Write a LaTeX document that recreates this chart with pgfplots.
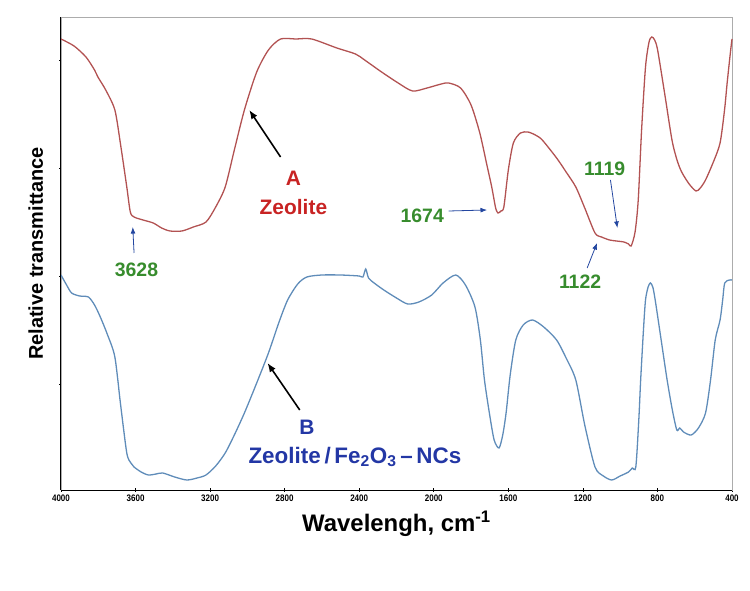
\documentclass[border=0pt]{standalone}
\usepackage{pgfplots}
\pgfplotsset{compat=1.18}
\usetikzlibrary{arrows.meta}
\usepackage{fontspec}
\setmainfont{Liberation Sans}
\definecolor{redcurve}{RGB}{178,82,82}
\definecolor{bluecurve}{RGB}{95,140,185}
\definecolor{redtext}{RGB}{200,35,35}
\definecolor{bluetext}{RGB}{35,55,165}
\definecolor{greentext}{RGB}{55,140,45}
\definecolor{arrowblue}{RGB}{35,70,160}
\begin{document}
\begin{tikzpicture}
\begin{axis}[
  name=ax,
  scale only axis,
  width=671bp, height=473bp,
  x dir=reverse,
  xmin=400, xmax=4000, ymin=0, ymax=473,
  xtick={400,800,...,4000},
  ytick={106,214,322,430},
  yticklabels={},
  xticklabel style={font=\fontsize{9.5}{10}\selectfont\bfseries, xscale=0.85},
  /pgf/number format/assume math mode=true,
  /pgf/number format/set thousands separator={},
  tick style={black, line width=0.6pt},
  major tick length=3bp,
  tick pos=left,
  tick align=center,
  axis line style={gray!65, line width=0.8pt},
  xlabel={\bfseries Wavelengh, cm\textsuperscript{-1}},
  xlabel style={font=\fontsize{24}{26}\selectfont, yshift=-2bp},
  ylabel={\bfseries Relative transmittance},
  ylabel style={font=\fontsize{20}{22}\selectfont, yshift=6bp},
  clip=false,
]
\addplot[redcurve, line width=1.3pt, smooth, tension=0.45] coordinates {
(4000,451) (3930,444) (3866,433) (3820,420) (3802,413) (3760,400) (3711,380) (3680,345) (3647,303) (3628,278) (3608,273)
(3560,270) (3505,267) (3460,262) (3415,259) (3351,259) (3290,263) (3222,268) (3170,283) (3119,303) (3070,340) (3016,380)
(2950,418) (2887,440) (2822,451) (2740,451) (2655,451) (2520,442) (2420,436) (2371,430) (2280,418) (2191,407) (2114,399)
(2036,402) (1960,406) (1920,407) (1856,402) (1800,385) (1753,357) (1715,325) (1689,303) (1668,282) (1655,277) (1640,279) (1624,283)
(1600,320) (1573,347) (1535,357) (1495,358) (1455,355) (1418,350) (1341,332) (1290,318) (1238,303) (1190,282) (1135,257) (1100,253)
(1057,250) (1020,249) (980,248) (955,246) (941,244) (920,258) (903,290) (885,360) (864,423) (845,448) (830,453) (815,450) (799,440)
(760,395) (722,350) (695,330) (670,318) (630,306) (593,299) (570,302) (542,310) (500,328) (464,347) (440,380) (426,407) (410,435) (400,451)
};
\addplot[bluecurve, line width=1.3pt, smooth, tension=0.45] coordinates {
(4000,215) (3970,205) (3943,197) (3900,194) (3853,193) (3820,185) (3789,173) (3750,155) (3711,133) (3680,85) (3647,37) (3625,27) (3608,23)
(3570,18) (3531,15) (3490,16) (3454,17) (3390,13) (3325,10) (3270,12) (3222,15) (3170,24) (3119,37) (3070,55) (3016,77) (2950,107)
(2887,137) (2830,168) (2784,190) (2730,206) (2681,213) (2600,215) (2500,215) (2400,214) (2380,213) (2365,221) (2350,212) (2320,207) (2268,200)
(2200,192) (2140,186) (2080,188) (2011,195) (1950,207) (1882,215) (1830,205) (1779,183) (1750,150) (1728,110) (1700,75) (1676,50) (1650,42)
(1630,55) (1612,77) (1590,115) (1560,150) (1520,165) (1470,170) (1410,163) (1341,150) (1290,132) (1238,110) (1190,65) (1135,23)
(1090,14) (1045,10) (1000,14) (955,18) (935,22) (916,23) (900,70) (890,110) (875,160) (864,190) (850,203) (838,207) (825,203) (812,190)
(780,150) (748,110) (720,80) (696,60) (680,62) (660,58) (619,55) (580,62) (542,77) (515,110) (490,150) (464,170) (450,190) (439,207) (413,210) (400,210)
};
% black frame lines on bottom and left
\draw[black, line width=1pt] (rel axis cs:0,0) -- (rel axis cs:1,0);
\draw[black, line width=1pt] (rel axis cs:0,0) -- (rel axis cs:0,1);
% annotations for A
\node[text=redtext, font=\fontsize{21}{23}\selectfont\bfseries] at (axis cs:2753,312) {A};
\node[text=redtext, font=\fontsize{21}{23}\selectfont\bfseries] at (axis cs:2753,283) {Zeolite};
\draw[-{Latex[length=9bp,width=7bp]}, black, line width=1.6pt] (axis cs:2822,333) -- (axis cs:2990,380);
\node[text=greentext, font=\fontsize{19.5}{21}\selectfont\bfseries] at (axis cs:3595,220) {3628};
\draw[-{Latex}, arrowblue, line width=0.8pt] (axis cs:3608,237) -- (axis cs:3615,263);
\node[text=greentext, font=\fontsize{19.5}{21}\selectfont\bfseries] at (axis cs:2062,274) {1674};
\draw[-{Latex}, arrowblue, line width=0.8pt] (axis cs:1920,279) -- (axis cs:1714,280);
\node[text=greentext, font=\fontsize{19.5}{21}\selectfont\bfseries] at (axis cs:1083,321) {1119};
\draw[-{Latex}, arrowblue, line width=0.8pt] (axis cs:1052,310) -- (axis cs:1015,262);
\node[text=greentext, font=\fontsize{19.5}{21}\selectfont\bfseries] at (axis cs:1215,208) {1122};
\draw[-{Latex}, arrowblue, line width=0.8pt] (axis cs:1177,222) -- (axis cs:1124,247);
% annotations for B
\node[text=bluetext, font=\fontsize{21}{23}\selectfont\bfseries] at (axis cs:2681,63) {B};
\node[text=bluetext, font=\fontsize{22.5}{24}\selectfont\bfseries] at (axis cs:2423,33) {Zeolite\,/\,Fe\textsubscript{2}O\textsubscript{3}\,--\,NCs};
\draw[-{Latex[length=9bp,width=7bp]}, black, line width=1.6pt] (axis cs:2719,80) -- (axis cs:2892,127);
\end{axis}
\path ([xshift=-61bp,yshift=-101bp]ax.south west) rectangle ([xshift=18bp,yshift=17bp]ax.north east);
\end{tikzpicture}
\end{document}
